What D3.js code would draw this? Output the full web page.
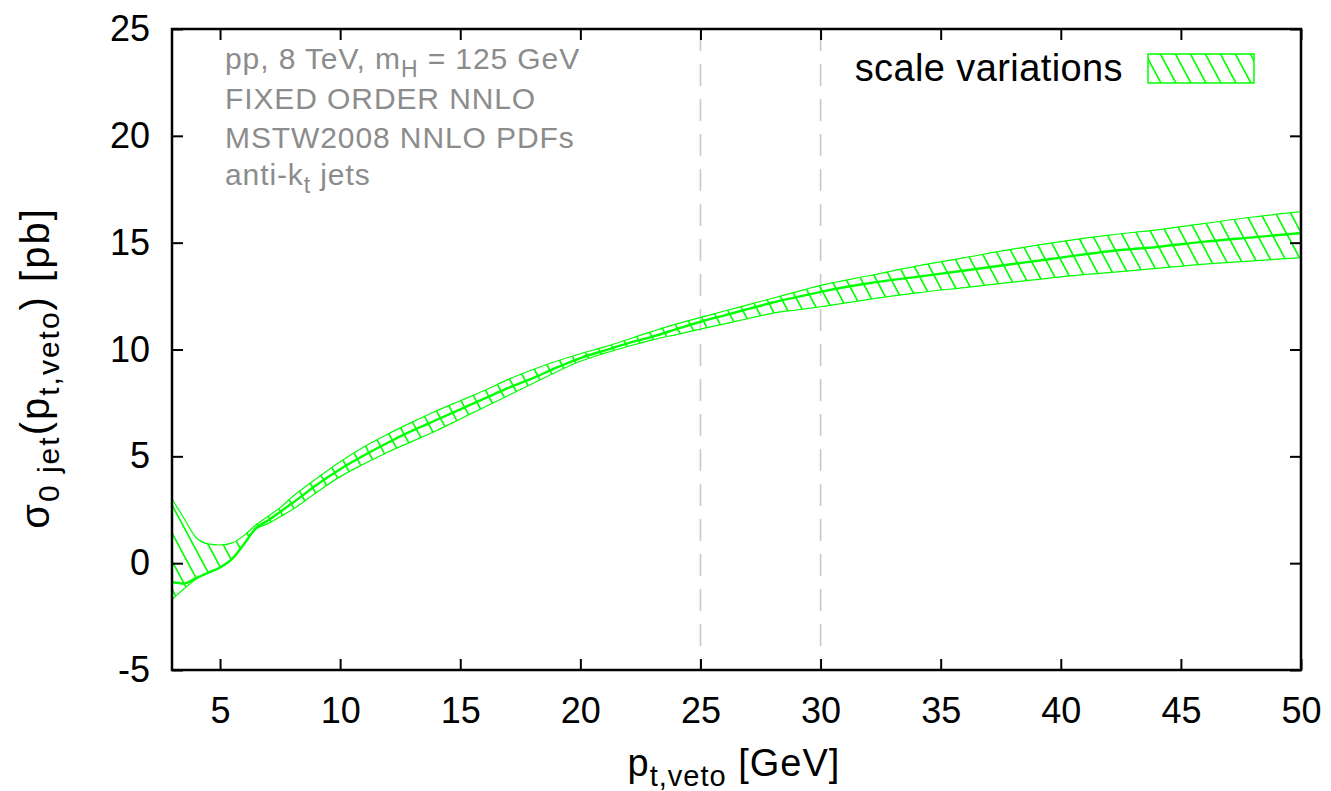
<!DOCTYPE html>
<html>
<head>
<meta charset="utf-8">
<script src="https://cdn.jsdelivr.net/npm/d3@7"></script>
<style>
  html, body { margin: 0; padding: 0; background: #fff; }
  svg { display: block; font-family: "Liberation Sans", Arial, Helvetica, sans-serif; }
</style>
</head>
<body>
<svg id="chart" width="1331" height="791"></svg>
<script>
// p_t,veto grid [GeV] and the scale-variation band [pb]
const ptVeto = [3, 3.5, 4, 4.5, 5, 5.5, 6, 6.5, 7, 7.5, 8, 9, 10, 11, 12, 13, 14, 15, 16, 17, 18, 19, 20,
  21, 22, 23, 24, 25, 26, 27, 28, 29, 30, 32, 34, 36, 38, 40, 42, 44, 46, 48, 50];
const sigmaUpper = [3.0, 2.1, 1.2, 0.9, 0.85, 0.95, 1.3, 1.8, 2.2, 2.6, 3.1, 3.95, 4.75, 5.45, 6.05, 6.6, 7.12, 7.6, 8.08, 8.6, 9.05, 9.45, 9.8,
  10.12, 10.48, 10.85, 11.2, 11.5, 11.8, 12.1, 12.4, 12.7, 13.0, 13.45, 13.9, 14.3, 14.7, 15.05, 15.35, 15.6, 15.9, 16.2, 16.45];
const sigmaCentral = [-0.88, -0.95, -0.7, -0.45, -0.2, 0.2, 0.9, 1.65, 2.0, 2.4, 2.8, 3.65, 4.4, 5.05, 5.65, 6.2, 6.7, 7.2, 7.7, 8.2, 8.65, 9.15, 9.6,
  9.95, 10.3, 10.6, 10.95, 11.3, 11.6, 11.9, 12.2, 12.45, 12.7, 13.1, 13.4, 13.7, 14.0, 14.3, 14.6, 14.8, 15.05, 15.25, 15.45];
const sigmaLower = [-1.7, -1.2, -0.75, -0.45, -0.2, 0.2, 0.9, 1.6, 1.85, 2.17, 2.5, 3.3, 4.05, 4.65, 5.2, 5.7, 6.2, 6.75, 7.3, 7.85, 8.4, 8.95, 9.45,
  9.82, 10.15, 10.45, 10.7, 10.95, 11.2, 11.45, 11.7, 11.85, 12.0, 12.35, 12.65, 12.9, 13.15, 13.4, 13.6, 13.8, 14.0, 14.15, 14.3];

const xTicks = [5, 10, 15, 20, 25, 30, 35, 40, 45, 50];
const yTicks = [-5, 0, 5, 10, 15, 20, 25];
const vetoMarks = [25, 30];
const infoLines = ['pp', 'FIXED ORDER NNLO', 'MSTW2008 NNLO PDFs', 'anti-k'];
const legendLabel = 'scale variations';

const green = '#00ff00';
const margin = { top: 29, right: 30, bottom: 121, left: 172 };
const width = 1331, height = 791;
const innerWidth = width - margin.left - margin.right;
const innerHeight = height - margin.top - margin.bottom;

const svg = d3.select('#chart');

// hatch pattern (\\\\ lines) used by the band and the legend swatch
const defs = svg.append('defs');
const hatch = defs.append('pattern')
  .attr('id', 'hatch')
  .attr('patternUnits', 'userSpaceOnUse')
  .attr('width', 15)
  .attr('height', 28);
hatch.append('path')
  .attr('d', 'M-7.5,-14 L22.5,42 M7.5,-14 L37.5,42 M-22.5,-14 L7.5,42')
  .attr('stroke', green)
  .attr('stroke-width', 1.6)
  .attr('fill', 'none');

defs.append('clipPath').attr('id', 'plot-clip')
  .append('rect').attr('width', innerWidth).attr('height', innerHeight);

const xScale = d3.scaleLinear().domain([3, 50]).range([0, innerWidth]);
const yScale = d3.scaleLinear().domain([-5, 25]).range([innerHeight, 0]);

const chart = svg.append('g')
  .attr('transform', `translate(${margin.left},${margin.top})`);

const band = ptVeto.map((x, i) => ({ x, lo: sigmaLower[i], c: sigmaCentral[i], hi: sigmaUpper[i] }));

// vertical dashed markers
chart.selectAll('.veto')
  .data(vetoMarks)
  .enter()
  .append('line')
  .attr('x1', d => xScale(d))
  .attr('x2', d => xScale(d))
  .attr('y1', 0)
  .attr('y2', innerHeight)
  .attr('stroke', '#c8c8c8')
  .attr('stroke-width', 1.6)
  .attr('stroke-dasharray', '22,13');

const plot = chart.append('g').attr('clip-path', 'url(#plot-clip)');

// band
const area = d3.area()
  .x(d => xScale(d.x))
  .y0(d => yScale(d.lo))
  .y1(d => yScale(d.hi))
  .curve(d3.curveMonotoneX);

plot.append('path')
  .datum(band)
  .attr('d', area)
  .attr('fill', 'url(#hatch)')
  .attr('stroke', 'none');

const edge = key => d3.line()
  .x(d => xScale(d.x))
  .y(d => yScale(d[key]))
  .curve(d3.curveMonotoneX);

plot.append('path').datum(band).attr('d', edge('hi'))
  .attr('fill', 'none').attr('stroke', green).attr('stroke-width', 1.2);
plot.append('path').datum(band).attr('d', edge('lo'))
  .attr('fill', 'none').attr('stroke', green).attr('stroke-width', 1.2);
plot.append('path').datum(band).attr('d', edge('c'))
  .attr('fill', 'none').attr('stroke', green).attr('stroke-width', 2.4);

// axes (ticks point inwards)
const plain = d => String(d);
const tickFont = g => g.attr('font-family', null).attr('font-size', 36).selectAll('text').attr('fill', '#000');
const tickLines = g => g.selectAll('line').attr('stroke', '#000').attr('stroke-width', 2);

chart.append('g')
  .attr('transform', `translate(0,${innerHeight})`)
  .call(d3.axisBottom(xScale).tickValues(xTicks).tickSize(-11).tickPadding(27).tickFormat(plain))
  .call(g => g.select('.domain').remove())
  .call(tickLines)
  .call(tickFont);

chart.append('g')
  .call(d3.axisTop(xScale).tickValues(xTicks).tickSize(-11).tickFormat(''))
  .call(g => g.select('.domain').remove())
  .call(tickLines);

chart.append('g')
  .call(d3.axisLeft(yScale).tickValues(yTicks).tickSize(-11).tickPadding(22).tickFormat(plain))
  .call(g => g.select('.domain').remove())
  .call(tickLines)
  .call(tickFont);

chart.append('g')
  .attr('transform', `translate(${innerWidth},0)`)
  .call(d3.axisRight(yScale).tickValues(yTicks).tickSize(-11).tickFormat(''))
  .call(g => g.select('.domain').remove())
  .call(tickLines);

// frame
chart.append('rect')
  .attr('width', innerWidth)
  .attr('height', innerHeight)
  .attr('fill', 'none')
  .attr('stroke', '#000')
  .attr('stroke-width', 2.5);

// info text (top left)
const info = chart.append('g')
  .attr('fill', '#8c8c8c')
  .attr('font-size', 30)
  .attr('letter-spacing', 0.9);
const infoY = [40, 80, 119, 156];

const l0 = info.append('text').attr('x', 53).attr('y', infoY[0]);
l0.append('tspan').text(infoLines[0] + ', 8 TeV, m');
l0.append('tspan').attr('font-size', 23).attr('dy', 8).text('H');
l0.append('tspan').attr('dy', -8).text(' = 125 GeV');

info.append('text').attr('x', 53).attr('y', infoY[1]).text(infoLines[1]);
info.append('text').attr('x', 53).attr('y', infoY[2]).text(infoLines[2]);

const l3 = info.append('text').attr('x', 53).attr('y', infoY[3]);
l3.append('tspan').text(infoLines[3]);
l3.append('tspan').attr('font-size', 23).attr('dy', 8).text('t');
l3.append('tspan').attr('dy', -8).text(' jets');

// legend
const legend = chart.append('g');
legend.append('text')
  .attr('x', 951)
  .attr('y', 52)
  .attr('text-anchor', 'end')
  .attr('font-size', 38)
  .attr('letter-spacing', 0.4)
  .attr('fill', '#000')
  .text(legendLabel);
legend.append('rect')
  .attr('x', 976)
  .attr('y', 25)
  .attr('width', 106)
  .attr('height', 29)
  .attr('fill', 'url(#hatch)')
  .attr('stroke', green)
  .attr('stroke-width', 1.5);

// axis titles
const xt = svg.append('text')
  .attr('x', 734)
  .attr('y', 776)
  .attr('text-anchor', 'middle')
  .attr('font-size', 38)
  .attr('letter-spacing', 1)
  .attr('fill', '#000');
xt.append('tspan').text('p');
xt.append('tspan').attr('font-size', 29).attr('dy', 10).text('t,veto');
xt.append('tspan').attr('dy', -10).text(' [GeV]');

const yt = svg.append('text')
  .attr('transform', 'translate(49,368) rotate(-90)')
  .attr('text-anchor', 'middle')
  .attr('font-size', 40)
  .attr('letter-spacing', 2)
  .attr('fill', '#000');
yt.append('tspan').text('σ');
yt.append('tspan').attr('font-size', 30).attr('dy', 10).text('0 jet');
yt.append('tspan').attr('dy', -10).text('(p');
yt.append('tspan').attr('font-size', 30).attr('dy', 10).text('t,veto');
yt.append('tspan').attr('dy', -10).text(') [pb]');
</script>
</body>
</html>
